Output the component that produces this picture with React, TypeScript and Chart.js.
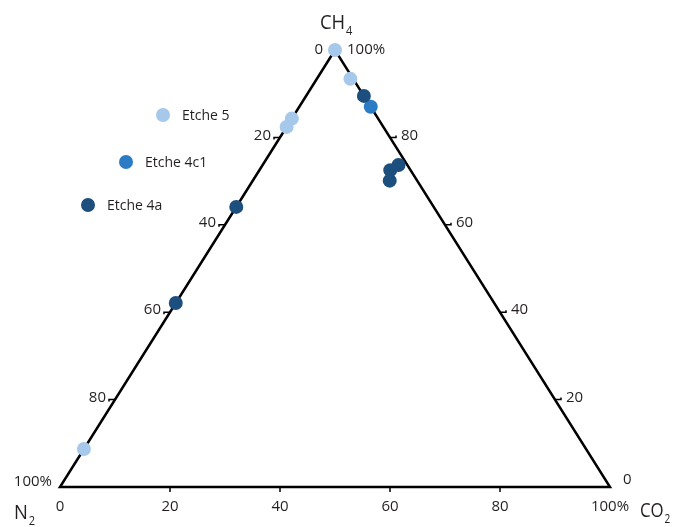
import React, { useEffect, useRef } from "react";
import { Chart, registerables } from "chart.js";

Chart.register(...registerables);

// Ternary compositions (%): CH4, CO2, N2
const seriesNames = ["Etche 5", "Etche 4c1", "Etche 4a"];
const seriesColors = ["#a6c8ea", "#2a7cc4", "#1d4f7e"];

const etche5CH4 = [100, 93.4, 84.3, 82.4, 8.7];
const etche5CO2 = [0, 6.1, 0, 0, 0];
const etche5N2 = [0, 0.5, 15.7, 17.6, 91.3];

const etche4c1CH4 = [87];
const etche4c1CO2 = [13];
const etche4c1N2 = [0];

const etche4aCH4 = [89.5, 73.7, 72.5, 70.1, 64.1, 42.1];
const etche4aCO2 = [10.5, 24.7, 23.8, 24.9, 0, 0];
const etche4aN2 = [0, 1.6, 3.7, 5.0, 35.9, 57.9];

const tickValues = [20, 40, 60, 80];
const FONT = "'Open Sans', 'DejaVu Sans', sans-serif";
const TEXT = "#231f20";

function toXY(ch4: number[], co2: number[], n2: number[]) {
  return ch4.map((c, i) => {
    const total = c + co2[i] + n2[i];
    const cc = (c / total) * 100;
    const bb = (co2[i] / total) * 100;
    return { x: bb + cc / 2, y: cc };
  });
}

const ternaryPlugin = {
  id: "ternary",
  beforeDatasetsDraw(chart: any) {
    const { ctx } = chart;
    const xs = chart.scales.x;
    const ys = chart.scales.y;
    const P = (x: number, y: number) => [xs.getPixelForValue(x), ys.getPixelForValue(y)];
    const [tx, ty] = P(50, 100);
    const [lx, ly] = P(0, 0);
    const [rx, ry] = P(100, 0);
    ctx.save();
    ctx.strokeStyle = "#000";
    ctx.lineWidth = 2.5;
    ctx.lineJoin = "miter";
    ctx.beginPath();
    ctx.moveTo(tx, ty);
    ctx.lineTo(lx, ly);
    ctx.lineTo(rx, ry);
    ctx.closePath();
    ctx.stroke();

    ctx.lineWidth = 1.5;
    ctx.fillStyle = TEXT;
    ctx.font = `15px ${FONT}`;
    ctx.textBaseline = "middle";
    // left edge: N2 (CH4 = 100 - v, CO2 = 0)
    tickValues.forEach((v) => {
      const c = 100 - v;
      const [px, py] = P(c / 2, c);
      ctx.beginPath();
      ctx.moveTo(px, py);
      ctx.lineTo(px - 6, py);
      ctx.lineTo(px - 6, py + 2);
      ctx.stroke();
      ctx.textAlign = "right";
      ctx.fillText(String(v), px - 9, py - 2);
    });
    // right edge: CH4 (CO2 = 100 - v)
    tickValues.forEach((v) => {
      const [px, py] = P(100 - v + v / 2, v);
      ctx.beginPath();
      ctx.moveTo(px, py);
      ctx.lineTo(px + 6, py);
      ctx.lineTo(px + 6, py - 2);
      ctx.stroke();
      ctx.textAlign = "left";
      ctx.fillText(String(v), px + 11, py - 2);
    });
    // bottom: CO2
    [0, 20, 40, 60, 80, 100].forEach((v) => {
      const [px, py] = P(v, 0);
      if (v > 0 && v < 100) {
        ctx.beginPath();
        ctx.moveTo(px, py);
        ctx.lineTo(px, py + 5);
        ctx.stroke();
      }
      ctx.textAlign = "center";
      ctx.fillText(v === 100 ? "100%" : String(v), px, py + 20);
    });
    // corner labels
    ctx.textAlign = "right";
    ctx.fillText("0", tx - 12, ty);
    ctx.fillText("100%", lx - 8, ly - 5);
    ctx.textAlign = "left";
    ctx.fillText("100%", tx + 12, ty);
    ctx.fillText("0", rx + 13, ry - 7);

    // vertex names with subscripts
    const sub = (main: string, s: string, x: number, y: number, sx: number) => {
      ctx.save();
      ctx.translate(x, y);
      ctx.scale(sx, 1);
      ctx.font = `20px ${FONT}`;
      ctx.textAlign = "left";
      ctx.textBaseline = "alphabetic";
      ctx.fillText(main, 0, 0);
      const w = ctx.measureText(main).width;
      ctx.font = `12px ${FONT}`;
      ctx.fillText(s, w + 1, 6);
      ctx.restore();
    };
    sub("CH", "4", tx - 15, ty - 21, 0.92);
    sub("N", "2", lx - 46, ly + 32, 0.92);
    sub("CO", "2", rx + 30, ry + 30, 0.84);
    ctx.restore();
  },
  afterDraw(chart: any) {
    const { ctx } = chart;
    ctx.save();
    const legendPos = [
      [163, 115],
      [126, 162],
      [88, 205],
    ];
    seriesNames.forEach((name, i) => {
      const [mx, my] = legendPos[i];
      ctx.beginPath();
      ctx.fillStyle = seriesColors[i];
      ctx.arc(mx, my, 7, 0, Math.PI * 2);
      ctx.fill();
      ctx.fillStyle = TEXT;
      ctx.font = `14px ${FONT}`;
      ctx.textAlign = "left";
      ctx.textBaseline = "middle";
      ctx.fillText(name, mx + 19, my + 1);
    });
    ctx.restore();
  },
};

export default function App() {
  const ref = useRef<HTMLCanvasElement>(null);
  useEffect(() => {
    if (!ref.current) return;
    const mk = (label: string, color: string, data: { x: number; y: number }[]) => ({
      label,
      data,
      backgroundColor: color,
      borderColor: color,
      pointRadius: 7,
      pointHoverRadius: 7,
      borderWidth: 0,
      clip: false as any,
    });
    const chart = new Chart(ref.current, {
      type: "scatter",
      data: {
        datasets: [
          mk(seriesNames[2], seriesColors[2], toXY(etche4aCH4, etche4aCO2, etche4aN2)),
          mk(seriesNames[1], seriesColors[1], toXY(etche4c1CH4, etche4c1CO2, etche4c1N2)),
          mk(seriesNames[0], seriesColors[0], toXY(etche5CH4, etche5CO2, etche5N2)),
        ],
      },
      options: {
        animation: false,
        responsive: false,
        layout: { padding: { left: 60, right: 64, top: 50, bottom: 40 } },
        scales: {
          x: { type: "linear", min: 0, max: 100, display: false },
          y: { type: "linear", min: 0, max: 100, display: false },
        },
        plugins: { legend: { display: false }, tooltip: { enabled: false } },
      },
      plugins: [ternaryPlugin],
    });
    return () => chart.destroy();
  }, []);
  return (
    <div style={{ position: "absolute", left: 0, top: 0, width: 674, height: 527, background: "#fff" }}>
      <canvas ref={ref} width={674} height={527} />
    </div>
  );
}
